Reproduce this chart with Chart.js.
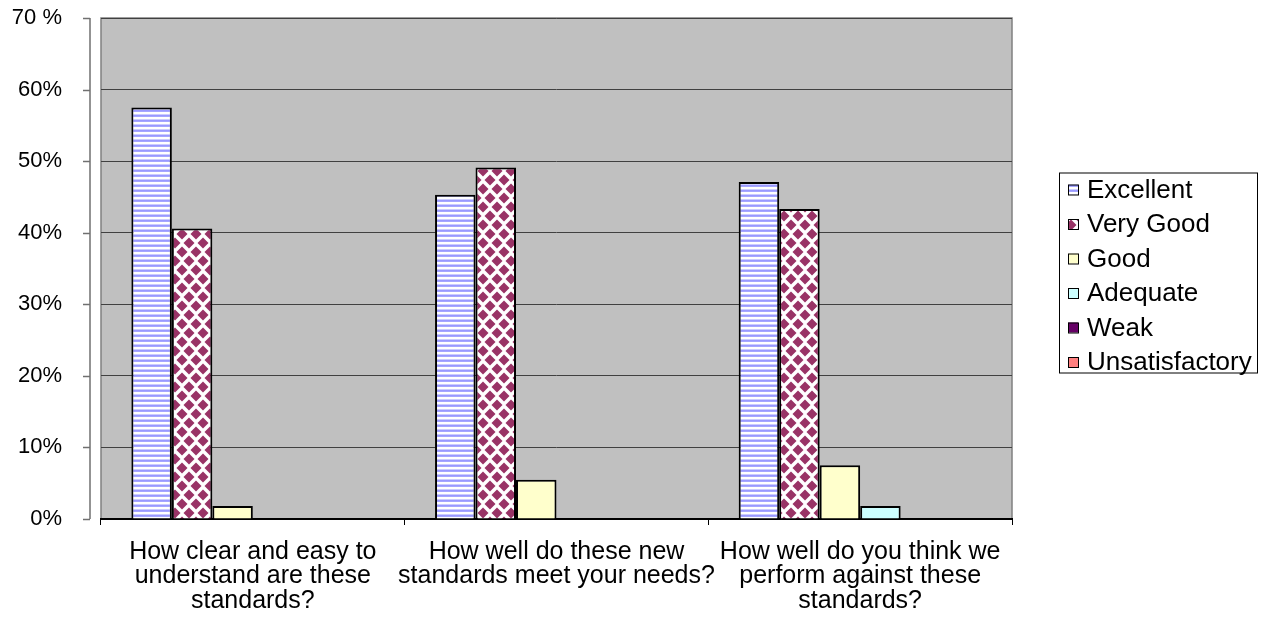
<!DOCTYPE html>
<html>
<head>
<meta charset="utf-8">
<script src="https://cdn.jsdelivr.net/npm/chart.js@4/dist/chart.umd.min.js"></script>
<style>
  html, body { margin: 0; padding: 0; background: #fff; }
  #wrap { width: 1281px; height: 617px; position: relative; }
</style>
</head>
<body>
<div id="wrap"><canvas id="chart"></canvas></div>
<script>
// Data
const categories = [
  ['How clear and easy to', 'understand are these', 'standards?'],
  ['How well do these new', 'standards meet your needs?'],
  ['How well do you think we', 'perform against these', 'standards?']
];
const seriesNames = ['Excellent', 'Very Good', 'Good', 'Adequate', 'Weak', 'Unsatisfactory'];
const excellent = [57.5, 45.3, 47.1];
const veryGood = [40.6, 49.1, 43.3];
const good = [1.8, 5.5, 7.5];
const adequate = [0, 0, 1.8];
const weak = [0, 0, 0];
const unsatisfactory = [0, 0, 0];
const yTicks = [0, 10, 20, 30, 40, 50, 60, 70];
const yTickLabels = ['0%', '10%', '20%', '30%', '40%', '50%', '60%', '70 %'];

const FONT = '"Liberation Sans", Arial, sans-serif';

// fill patterns like the old office chart
function stripePattern() {
  const c = document.createElement('canvas');
  c.width = 4; c.height = 5;
  const g = c.getContext('2d');
  const rows = ['#9999ff', '#a6a6ff', '#ffffff', '#ffffff', '#ccccff'];
  rows.forEach((col, i) => { g.fillStyle = col; g.fillRect(0, i, 4, 1); });
  return g.createPattern(c, 'repeat');
}

function diamondPattern() {
  const c = document.createElement('canvas');
  const w = 14, h = 18;
  c.width = w; c.height = h;
  const g = c.getContext('2d');
  g.fillStyle = '#ffffff';
  g.fillRect(0, 0, w, h);
  g.fillStyle = '#993366';
  const diamond = (cx, cy) => {
    g.beginPath();
    g.moveTo(cx, cy - 5.5);
    g.lineTo(cx + 5.5, cy);
    g.lineTo(cx, cy + 5.5);
    g.lineTo(cx - 5.5, cy);
    g.closePath();
    g.fill();
  };
  [[0, 0], [w, 0], [0, h], [w, h], [w / 2, h / 2]].forEach(p => diamond(p[0], p[1]));
  return g.createPattern(c, 'repeat');
}

const fills = [stripePattern(), diamondPattern(), '#ffffcc', '#ccffff', '#660066', '#ff8080'];
const seriesData = [excellent, veryGood, good, adequate, weak, unsatisfactory];

// gray plot area with border
const plotBg = {
  id: 'plotBg',
  beforeDraw(chart) {
    const { ctx, chartArea: a } = chart;
    ctx.save();
    ctx.fillStyle = '#c0c0c0';
    ctx.fillRect(a.left, a.top, a.right - a.left, a.bottom - a.top);
    ctx.strokeStyle = '#808080';
    ctx.lineWidth = 1.5;
    ctx.beginPath();
    ctx.moveTo(a.left, a.bottom);
    ctx.lineTo(a.left, a.top);
    ctx.lineTo(a.right, a.top);
    ctx.lineTo(a.right, a.bottom);
    ctx.stroke();
    ctx.restore();
  }
};

// detached value axis line with little ticks, sits left of the plot
const valueAxis = {
  id: 'valueAxis',
  afterDraw(chart) {
    const { ctx, chartArea: a, scales } = chart;
    const x = a.left - 11;
    ctx.save();
    ctx.strokeStyle = '#707070';
    ctx.lineWidth = 1.5;
    ctx.beginPath();
    ctx.moveTo(x, a.top);
    ctx.lineTo(x, a.bottom);
    yTicks.forEach(v => {
      const y = Math.round(scales.y.getPixelForValue(v)) + 0.5;
      ctx.moveTo(x - 7, y);
      ctx.lineTo(x, y);
    });
    ctx.stroke();
    ctx.restore();
  }
};

// boxed legend on the right
const boxLegend = {
  id: 'boxLegend',
  afterDraw(chart) {
    const { ctx, chartArea: a } = chart;
    const left = a.right + 47;
    const top = (a.top + a.bottom) / 2 - 96;
    const w = 198, h = 200, step = 34.5;
    ctx.save();
    ctx.strokeStyle = '#000';
    ctx.lineWidth = 1;
    ctx.strokeRect(left + 0.5, top + 0.5, w, h);
    ctx.font = '26px ' + FONT;
    ctx.textBaseline = 'middle';
    chart.data.datasets.forEach((ds, i) => {
      const cy = top + 17 + i * step;
      ctx.fillStyle = ds.backgroundColor;
      ctx.fillRect(left + 9, cy - 5, 10, 10);
      ctx.strokeStyle = '#000';
      ctx.strokeRect(left + 9.5, cy - 4.5, 10, 10);
      ctx.fillStyle = '#000';
      ctx.fillText(ds.label, left + 28, cy + 1);
    });
    ctx.restore();
  }
};

new Chart(document.getElementById('chart'), {
  type: 'bar',
  data: {
    labels: categories,
    datasets: seriesNames.map((name, i) => ({
      label: name,
      data: seriesData[i],
      backgroundColor: fills[i],
      borderColor: '#000',
      borderWidth: 2,
      categoryPercentage: 0.8,
      barPercentage: 1.0
    }))
  },
  options: {
    responsive: true,
    maintainAspectRatio: false,
    animation: false,
    devicePixelRatio: 1,
    layout: { padding: { top: 18, right: 269, left: 0, bottom: 0 } },
    plugins: {
      legend: { display: false },
      tooltip: { enabled: false }
    },
    scales: {
      x: {
        grid: { drawOnChartArea: false, drawTicks: true, tickLength: 6, color: '#000', offset: true },
        border: { display: true, color: '#000', width: 2 },
        ticks: {
          color: '#000',
          font: { family: FONT, size: 25, lineHeight: 0.97 },
          padding: 15,
          maxRotation: 0,
          autoSkip: false
        },
        afterFit(scale) { scale.height = 98; }
      },
      y: {
        min: 0,
        max: 70,
        grid: { color: '#404040', lineWidth: 1, drawTicks: true, tickLength: 39, tickColor: 'rgba(0,0,0,0)' },
        border: { display: false },
        ticks: {
          stepSize: 10,
          color: '#000',
          padding: 0,
          font: { family: FONT, size: 22 },
          callback: v => yTickLabels[yTicks.indexOf(v)]
        },
        afterFit(scale) { scale.width = 101; }
      }
    }
  },
  plugins: [plotBg, valueAxis, boxLegend]
});
</script>
</body>
</html>
